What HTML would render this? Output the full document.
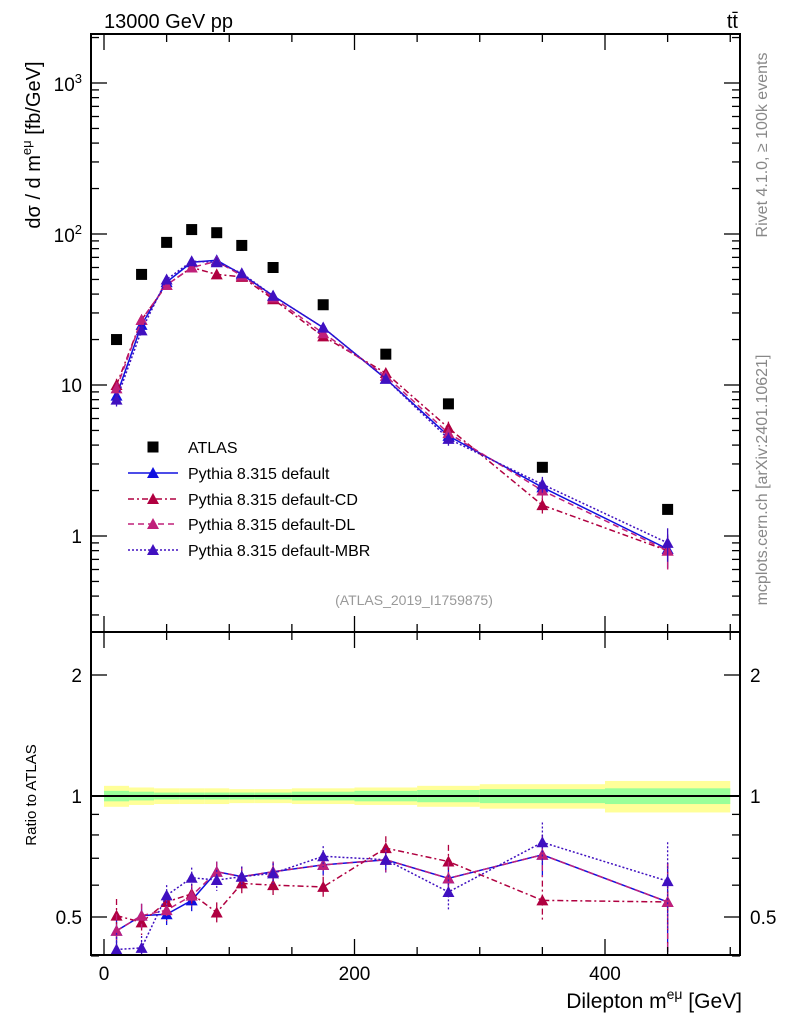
<!DOCTYPE html>
<html><head><meta charset="utf-8"><style>
body{margin:0;background:#fff;}
svg{display:block;font-family:"Liberation Sans",sans-serif;}
</style></head><body>
<svg id="chart" width="786" height="1024" viewBox="0 0 786 1024" xmlns="http://www.w3.org/2000/svg">
<g id="bands"></g>
<g id="marks"></g>
<g id="axes"></g>
<text x="104" y="28" font-size="20">13000 GeV pp</text>
<text x="738" y="28" font-size="20" text-anchor="end">tt̄</text>
<text transform="translate(767,145) rotate(-90)" font-size="16" fill="#888" text-anchor="middle">Rivet 4.1.0, ≥ 100k events</text>
<text transform="translate(767,480) rotate(-90)" font-size="16" fill="#888" text-anchor="middle">mcplots.cern.ch [arXiv:2401.10621]</text>
<text transform="translate(40,145) rotate(-90)" font-size="20" text-anchor="middle">dσ / d m<tspan dy="-9" font-size="13">eμ</tspan><tspan dy="9"> [fb/GeV]</tspan></text>
<text transform="translate(36,795) rotate(-90)" font-size="15" text-anchor="middle">Ratio to ATLAS</text>
<text x="742" y="1008" font-size="21" text-anchor="end">Dilepton m<tspan dy="-9" font-size="14">eμ</tspan><tspan dy="9"> [GeV]</tspan></text>
<text x="414" y="605" font-size="14" fill="#999" text-anchor="middle">(ATLAS_2019_I1759875)</text>
<g id="legend"></g>
</svg>
<script>
const xCenters=[10,30,50,70,90,110,135,175,225,275,350,450];
const binEdges=[0,20,40,60,80,100,120,150,200,250,300,400,500];
const atlas=[20,54,88,107,102,84,60,34,16,7.5,2.85,1.5];
const mcDefault=[8.5,25,48,65,67,54,39,24,11,4.6,2.1,0.82];
const mcCD=[10,27,46,60,54,52,37,21,12,5.2,1.6,0.8];
const mcDL=[9.5,27,46,60,66,53,38,22,11.5,4.8,2.0,0.8];
const mcMBR=[8,23,50,66,65,55,39,24,11,4.4,2.2,0.9];
const rDefault=[0.462,0.504,0.508,0.55,0.648,0.63,0.648,0.674,0.694,0.624,0.714,0.545];
const rCD=[0.504,0.485,0.545,0.571,0.513,0.606,0.6,0.594,0.742,0.687,0.55,0.545];
const rDL=[0.462,0.504,0.52,0.565,0.648,0.63,0.648,0.674,0.694,0.624,0.714,0.545];
const rMBR=[0.415,0.419,0.566,0.626,0.618,0.63,0.642,0.708,0.694,0.577,0.767,0.614];
const rErr=[0.1,0.07,0.06,0.06,0.06,0.06,0.06,0.06,0.07,0.1,0.12,0.25];
const bandYellow=[0.06,0.05,0.045,0.045,0.045,0.04,0.04,0.045,0.05,0.06,0.07,0.09];
const bandGreen=[0.03,0.025,0.02,0.02,0.02,0.02,0.02,0.025,0.03,0.035,0.04,0.045];
const xTicks=[0,200,400];

const NS="http://www.w3.org/2000/svg";
const L=91,R=740,T=34,MB=632,B=955;
const X=v=>104+(v-0)*1.2525;
const Y=v=>536-Math.log10(v)*151;
const YR=v=>796-Math.log2(v)*121;
function el(tag,attrs,parent){const e=document.createElementNS(NS,tag);for(const k in attrs)e.setAttribute(k,attrs[k]);parent.appendChild(e);return e;}
const bands=document.getElementById('bands'),marks=document.getElementById('marks'),axes=document.getElementById('axes'),legend=document.getElementById('legend');

for(let i=0;i<xCenters.length;i++){
  const x0=X(binEdges[i]),x1=X(binEdges[i+1]);
  const y=el('rect',{x:x0,y:YR(1+bandYellow[i]),width:x1-x0,height:YR(1-bandYellow[i])-YR(1+bandYellow[i]),fill:'#ffff99'},bands);
  
  
  const g=el('rect',{x:x0,y:YR(1+bandGreen[i]),width:x1-x0,height:YR(1-bandGreen[i])-YR(1+bandGreen[i]),fill:'#99ff99'},bands);
  
  
}
const one=el('line',{x1:L,x2:R,y1:YR(1),y2:YR(1),stroke:'#000','stroke-width':2},bands);



const series=[
 {name:'default',main:mcDefault,ratio:rDefault,color:'#1010e0',dash:'',label:'Pythia 8.315 default'},
 {name:'default-cd',main:mcCD,ratio:rCD,color:'#b00040',dash:'6,3,2,3',label:'Pythia 8.315 default-CD'},
 {name:'default-dl',main:mcDL,ratio:rDL,color:'#c0207a',dash:'6,4',label:'Pythia 8.315 default-DL'},
 {name:'default-mbr',main:mcMBR,ratio:rMBR,color:'#4010c0',dash:'2,2',label:'Pythia 8.315 default-MBR'}
];
function tri(x,y,c,parent,name){const t=el('polygon',{points:`${x},${y-6} ${x-6},${y+5} ${x+6},${y+5}`,fill:c},parent);return t;}
series.forEach(s=>{
  let pts=s.main.map((v,i)=>X(xCenters[i])+','+Y(v)).join(' ');
  const p=el('polyline',{points:pts,fill:'none',stroke:s.color,'stroke-width':1.5,'stroke-dasharray':s.dash},marks);
  
  
  let pr=s.ratio.map((v,i)=>X(xCenters[i])+','+YR(v)).join(' ');
  const q=el('polyline',{points:pr,fill:'none',stroke:s.color,'stroke-width':1.5,'stroke-dasharray':s.dash},marks);
  
  
  s.main.forEach((v,i)=>{
    const x=X(xCenters[i]);
    const e=el('line',{x1:x,x2:x,y1:Y(v*(1+rErr[i])),y2:Y(v*(1-rErr[i])),stroke:s.color,'stroke-width':1.3},marks);
    
    
    tri(x,Y(v),s.color,marks,'point-'+s.name);
  });
  s.ratio.forEach((v,i)=>{
    const x=X(xCenters[i]);
    const e=el('line',{x1:x,x2:x,y1:YR(v*(1+rErr[i])),y2:Math.min(B,YR(v*(1-rErr[i]))),stroke:s.color,'stroke-width':1.3,'stroke-dasharray':s.dash},marks);
    
    
    tri(x,YR(v),s.color,marks,'ratio-point-'+s.name);
  });
});
atlas.forEach((v,i)=>{
  const r=el('rect',{x:X(xCenters[i])-5.5,y:Y(v)-5.5,width:11,height:11,fill:'#000'},marks);
  
  
});

[[T,MB],[MB,B]].forEach(([a,b])=>{const f=el('rect',{x:L,y:a,width:R-L,height:b-a,fill:'none',stroke:'#000','stroke-width':2},axes);});
for(let v=0;v<=500;v+=50){
  const maj=xTicks.includes(v);const len=maj?16:8;const x=X(v);
  [[T,T+len],[MB,MB-len],[MB,MB+len],[B,B-len]].forEach(([a,b])=>{const t=el('line',{x1:x,x2:x,y1:a,y2:b,stroke:'#000','stroke-width':1.3},axes);});
}
xTicks.forEach(v=>{const t=el('text',{x:X(v),y:980,'font-size':19,'text-anchor':'middle'},axes);t.textContent=v;});
for(let d=-1;d<=3;d++){for(let m=1;m<10;m++){const v=m*Math.pow(10,d);const y=Y(v);if(y<T||y>MB)continue;const len=m==1?16:8;
  [[L,L+len],[R,R-len]].forEach(([a,b])=>{const t=el('line',{x1:a,x2:b,y1:y,y2:y,stroke:'#000','stroke-width':1.3},axes);});}}
[[1,'1'],[10,'10']].forEach(([v,s])=>{const t=el('text',{x:82,y:Y(v)+7,'font-size':19,'text-anchor':'end'},axes);t.textContent=s;});
[[100,'2'],[1000,'3']].forEach(([v,s])=>{const t=el('text',{x:82,y:Y(v)+8,'font-size':19,'text-anchor':'end'},axes);t.innerHTML='10<tspan dy="-8" font-size="13">'+s+'</tspan>';});
const rt=[0.4,0.5,0.6,0.7,0.8,0.9,1,2];
rt.forEach(v=>{const y=YR(v);const len=(v==0.5||v==1||v==2)?16:8;
  [[L,L+len],[R,R-len]].forEach(([a,b])=>{const t=el('line',{x1:a,x2:b,y1:y,y2:y,stroke:'#000','stroke-width':1.3},axes);});});
[[0.5,'0.5'],[1,'1'],[2,'2']].forEach(([v,s])=>{[[82,'end'],[750,'start']].forEach(([x,a])=>{const t=el('text',{x:x,y:YR(v)+7,'font-size':19,'text-anchor':a},axes);t.textContent=s;});});

const rowsY=[447,473,499,524,550];
const a=el('rect',{x:147.5,y:rowsY[0]-5.5,width:11,height:11,fill:'#000'},legend);


const at=el('text',{x:188,y:rowsY[0]+6,'font-size':16},legend);at.textContent='ATLAS';


series.forEach((s,i)=>{const y=rowsY[i+1];
  const l=el('line',{x1:128,x2:178,y1:y,y2:y,stroke:s.color,'stroke-width':1.5,'stroke-dasharray':s.dash},legend);
  
  
  tri(153,y,s.color,legend,'legend-marker-'+s.name);
  const t=el('text',{x:188,y:y+6,'font-size':16},legend);t.textContent=s.label;
  
  
});
</script>
</body></html>
